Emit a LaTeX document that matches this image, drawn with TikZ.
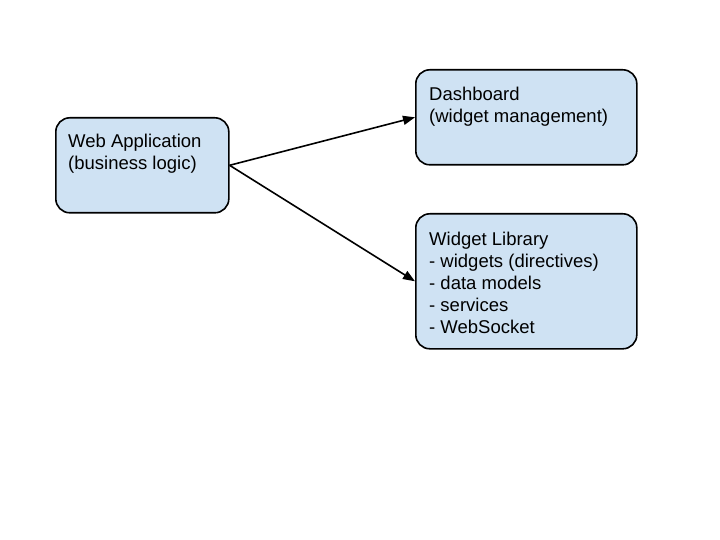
\documentclass[tikz,border=0pt]{standalone}
\usepackage{fontspec}
\setmainfont{Liberation Sans}
\usetikzlibrary{arrows.meta}
\definecolor{boxblue}{HTML}{CFE2F3}
\tikzset{
  box/.style={draw=black, line width=1.6pt, fill=boxblue, rounded corners=14pt, anchor=north west, inner sep=0pt},
  label/.style={anchor=north west, inner sep=0pt, align=left, font=\fontsize{18.5}{22}\selectfont},
  conn/.style={line width=1.6pt, -{Triangle[length=12pt,width=9pt]}}
}
\begin{document}
\begin{tikzpicture}[x=1pt,y=-1pt]
\useasboundingbox (0,0) rectangle (720,540);
\node[box, minimum width=173pt, minimum height=95pt] (web) at (55,117) {};
\node[box, minimum width=221pt, minimum height=95pt] (dash) at (415,69) {};
\node[box, minimum width=221pt, minimum height=135pt] (lib) at (415,213) {};
\node[label] (webt) at (68,133.5) {Web Application\\(business logic)};
\node[label] (dasht) at (429,86.5) {Dashboard\\(widget management)};
\node[label] (libt) at (429,231.5) {Widget Library\\- widgets (directives)\\- data models\\- services\\- WebSocket};
\draw[conn] (web.east) -- (dash.west);
\draw[conn] (web.east) -- (lib.west);
\end{tikzpicture}
\end{document}
